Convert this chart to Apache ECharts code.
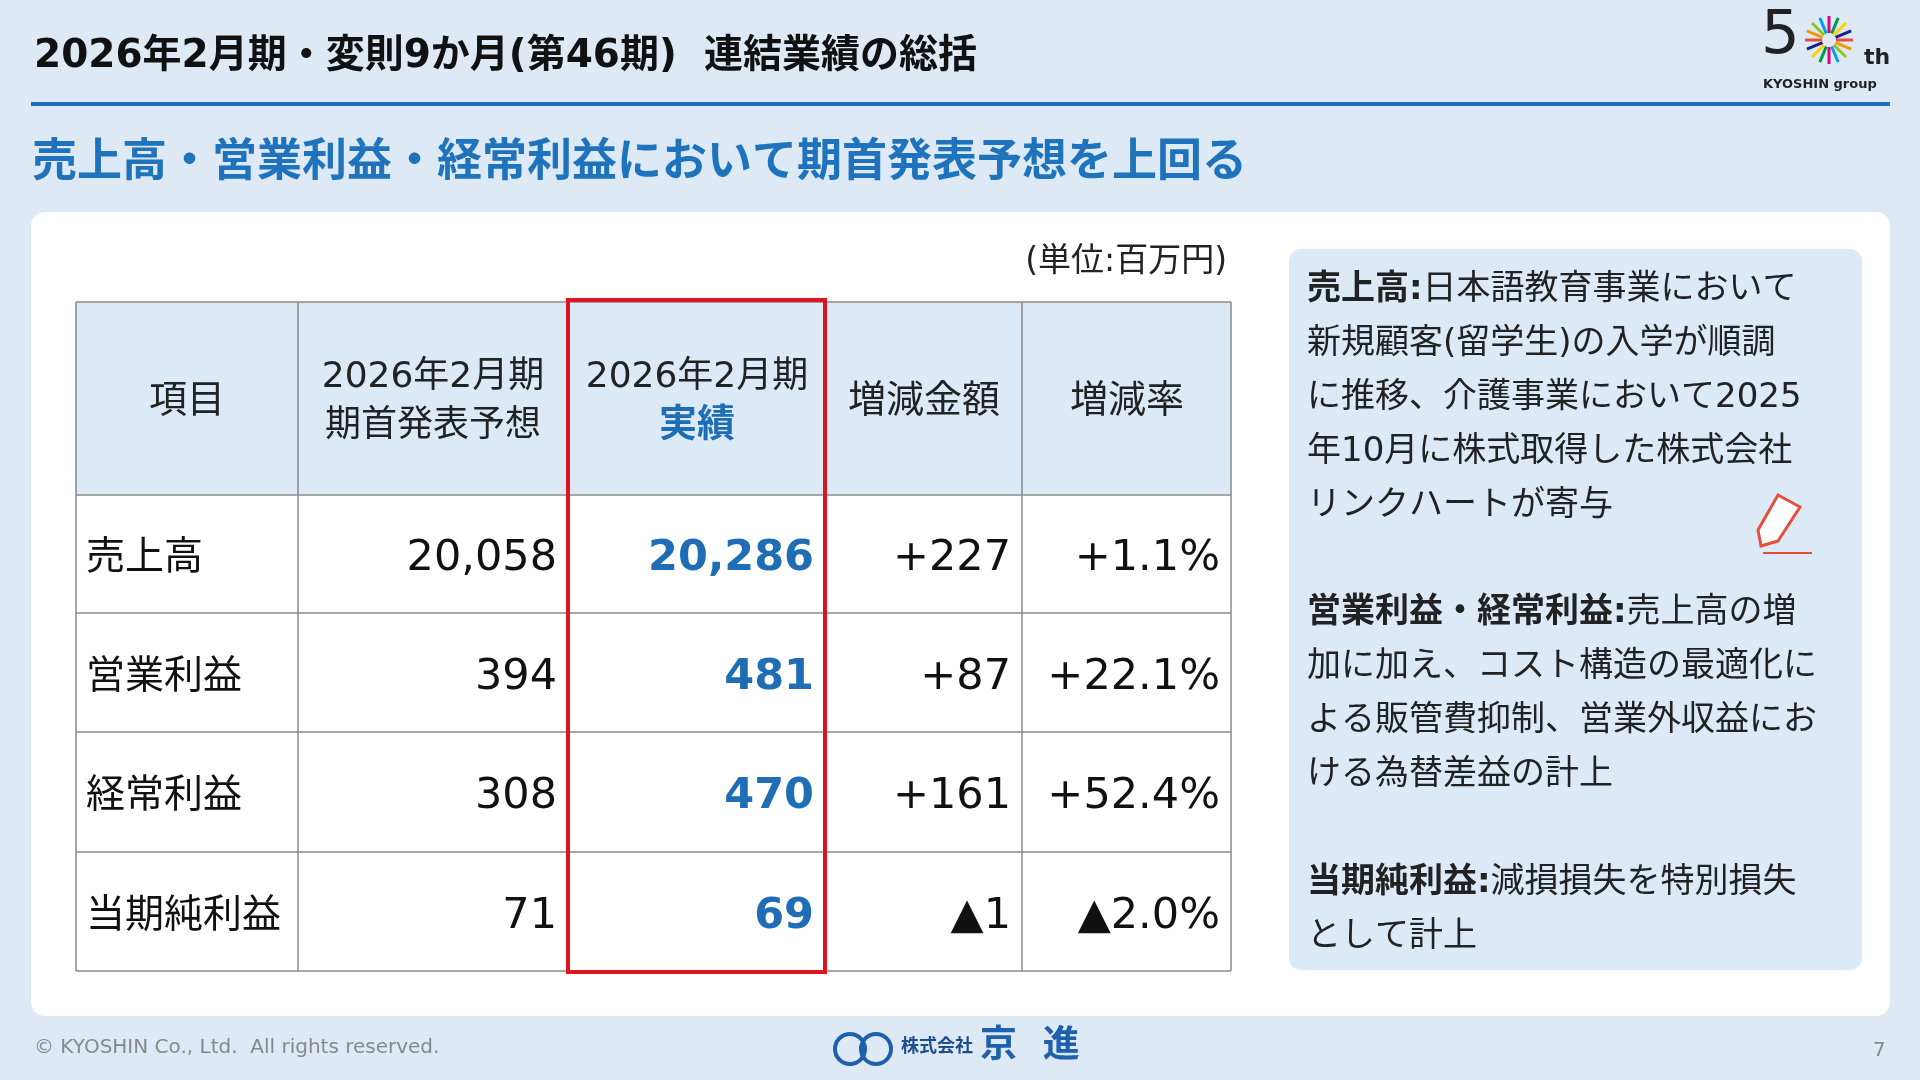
<!DOCTYPE html>
<html>
<head>
<meta charset="utf-8">
<script src="https://cdn.jsdelivr.net/npm/echarts@6/dist/echarts.min.js"></script>
<style>
  html, body { margin: 0; padding: 0; background: #dde9f5; }
  #main { width: 1920px; height: 1080px; }
</style>
</head>
<body>
<div id="main"></div>
<script>
// data
var headers = ['項目', '2026年2月期\n期首発表予想', '2026年2月期\n{b|実績}', '増減金額', '増減率'];
var items = ['売上高', '営業利益', '経常利益', '当期純利益'];
var forecast = ['20,058', '394', '308', '71'];
var actual = ['20,286', '481', '470', '69'];
var diffAmount = ['+227', '+87', '+161', '▲1'];
var diffRate = ['+1.1%', '+22.1%', '+52.4%', '▲2.0%'];
var notes = [
    ['{h|売上高:}日本語教育事業において', '新規顧客(留学生)の入学が順調', 'に推移、介護事業において2025', '年10月に株式取得した株式会社', 'リンクハートが寄与'],
    ['{h|営業利益・経常利益:}売上高の増', '加に加え、コスト構造の最適化に', 'よる販管費抑制、営業外収益にお', 'ける為替差益の計上'],
    ['{h|当期純利益:}減損損失を特別損失', 'として計上']
];

var s = 1920 / 1568;
var FONT = '"DejaVu Sans", "Noto Sans CJK JP", sans-serif';
var colX = [62, 243, 464, 674, 835, 1005];
var rowY = [247, 404, 501, 598, 696, 793];
var BLUE = '#1e6db5';

function P(v) { return Math.round(v * s); }

var g = [];
// title
g.push({type: 'text', left: P(28), top: P(30), style: {text: '2026年2月期・変則9か月(第46期)  連結業績の総括', font: '600 ' + P(32) + 'px ' + FONT, fill: '#111'}});
g.push({type: 'rect', shape: {x: P(25), y: P(83), width: P(1518), height: P(3)}, style: {fill: BLUE}});
g.push({type: 'text', left: P(26), top: P(116), style: {text: '売上高・営業利益・経常利益において期首発表予想を上回る', font: 'bold ' + P(37) + 'px ' + FONT, fill: '#1f73bd'}});
// logo
g.push({type: 'text', left: P(1438), top: P(6), style: {text: '5', font: P(50) + 'px ' + FONT, fill: '#222'}});
g.push({type: 'text', left: P(1522), top: P(38), style: {text: 'th', font: 'bold ' + P(18) + 'px ' + FONT, fill: '#222'}});
g.push({type: 'text', left: P(1440), top: P(64), style: {text: 'KYOSHIN group', font: 'bold ' + P(11) + 'px ' + FONT, fill: '#222'}});
var burst = ['#e94e3c', '#f39800', '#8fc31f', '#00a0e9', '#e4007f', '#009944', '#fdd000', '#1d2088'];
for (var k = 0; k < 16; k++) {
    var a = k * Math.PI / 8;
    g.push({type: 'line', shape: {x1: P(1494) + Math.cos(a) * P(6), y1: P(33) + Math.sin(a) * P(6), x2: P(1494) + Math.cos(a) * P(20), y2: P(33) + Math.sin(a) * P(20)}, style: {stroke: burst[k % 8], lineWidth: 3}});
}
// white panel
g.push({type: 'rect', shape: {x: P(25), y: P(173), width: P(1518), height: P(657), r: 14}, style: {fill: '#fff'}});
g.push({type: 'text', right: 1920 - P(1002), top: P(201), style: {text: '(単位:百万円)', font: P(27) + 'px ' + FONT, fill: '#222'}});

// header bg
g.push({type: 'rect', shape: {x: P(colX[0]), y: P(rowY[0]), width: P(colX[5] - colX[0]), height: P(rowY[1] - rowY[0])}, style: {fill: '#dce9f6'}});
// header text
for (var c = 0; c < 5; c++) {
    g.push({type: 'text', x: P((colX[c] + colX[c + 1]) / 2), y: P((rowY[0] + rowY[1]) / 2 + 3),
        style: {text: headers[c], align: 'center', verticalAlign: 'middle', font: P(c === 1 || c === 2 ? 29 : 31) + 'px ' + FONT, fill: '#222', lineHeight: P(40),
            rich: {b: {fill: BLUE, font: 'bold ' + P(31) + 'px ' + FONT}}}});
}
// body
var cols = [items, forecast, actual, diffAmount, diffRate];
for (var r = 0; r < items.length; r++) {
    var cy = P((rowY[r + 1] + rowY[r + 2]) / 2 + 4);
    for (var c2 = 0; c2 < 5; c2++) {
        var isItem = c2 === 0;
        g.push({type: 'text',
            x: isItem ? P(colX[0] + 8) : P(colX[c2 + 1] - 9), y: cy,
            style: {text: cols[c2][r], align: isItem ? 'left' : 'right', verticalAlign: 'middle',
                font: (c2 === 2 ? 'bold ' : '') + P(isItem ? 32 : 35) + 'px ' + FONT,
                fill: c2 === 2 ? BLUE : '#111'}});
    }
}
// grid lines
rowY.forEach(function (y) {
    g.push({type: 'line', shape: {x1: P(colX[0]), y1: P(y), x2: P(colX[5]), y2: P(y)}, style: {stroke: '#8a8a8a', lineWidth: 1.5}});
});
colX.forEach(function (x) {
    g.push({type: 'line', shape: {x1: P(x), y1: P(rowY[0]), x2: P(x), y2: P(rowY[5])}, style: {stroke: '#8a8a8a', lineWidth: 1.5}});
});
// red highlight
g.push({type: 'rect', shape: {x: P(464), y: P(245), width: P(210), height: P(549)}, style: {fill: 'none', stroke: '#e0141e', lineWidth: 4}});

// notes box
g.push({type: 'rect', shape: {x: P(1053), y: P(203), width: P(468), height: P(589), r: 12}, style: {fill: '#dce9f6'}});
var ny = [237, 501, 721];
notes.forEach(function (blk, i) {
    blk.forEach(function (line, j) {
        g.push({type: 'text', x: P(1067), y: P(ny[i] + j * 44), style: {text: line, verticalAlign: 'middle', font: P(28) + 'px ' + FONT, fill: '#222',
            rich: {h: {font: 'bold ' + P(28) + 'px ' + FONT, fill: '#222'}}}});
    });
});
// pen icon
g.push({type: 'polygon', shape: {points: [[P(1452), P(404)], [P(1470), P(414)], [P(1452), P(442)], [P(1438), P(446)], [P(1436), P(433)]]}, style: {fill: '#fff', stroke: '#e94e3c', lineWidth: 3}});
g.push({type: 'line', shape: {x1: P(1440), y1: P(452), x2: P(1480), y2: P(452)}, style: {stroke: '#e94e3c', lineWidth: 2}});

// footer
g.push({type: 'text', left: P(28), top: P(848), style: {text: '© KYOSHIN Co., Ltd.  All rights reserved.', font: P(16) + 'px ' + FONT, fill: '#888'}});
g.push({type: 'circle', shape: {cx: P(694), cy: P(857), r: P(12)}, style: {fill: 'none', stroke: '#1e5fae', lineWidth: 4}});
g.push({type: 'circle', shape: {cx: P(715), cy: P(857), r: P(12)}, style: {fill: 'none', stroke: '#1e5fae', lineWidth: 4}});
g.push({type: 'text', left: P(736), top: P(848), style: {text: '株式会社', font: 'bold ' + P(15) + 'px ' + FONT, fill: '#1e4e8e'}});
g.push({type: 'text', left: P(800), top: P(840), style: {text: '京  進', font: 'bold ' + P(30) + 'px ' + FONT, fill: '#1e5fae'}});
g.push({type: 'text', left: P(1530), top: P(850), style: {text: '7', font: P(16) + 'px ' + FONT, fill: '#888'}});

var myChart = echarts.init(document.getElementById('main'));
myChart.setOption({backgroundColor: '#dde9f5', graphic: g});
</script>
</body>
</html>
